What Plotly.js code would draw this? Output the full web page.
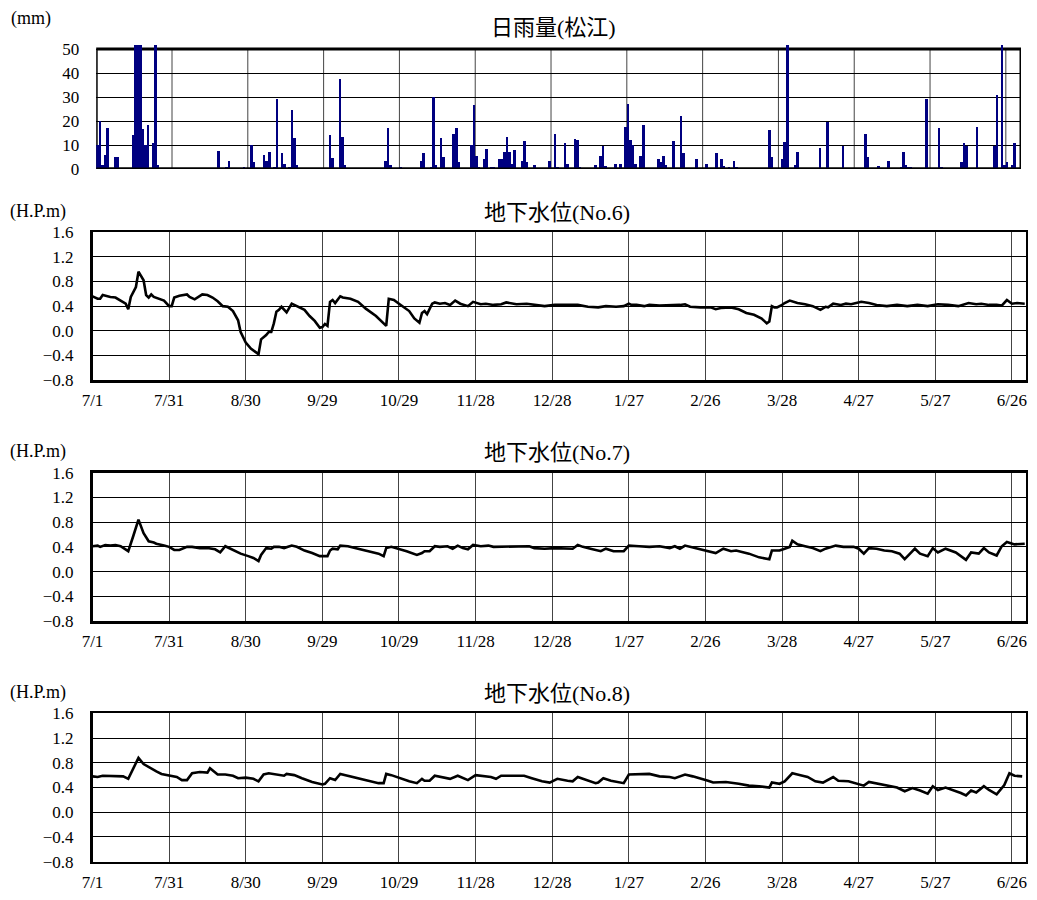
<!DOCTYPE html>
<html>
<head>
<meta charset="utf-8">
<script src="https://cdn.plot.ly/plotly-3.0.1.min.js"></script>
<style>html,body{margin:0;padding:0;background:#fff;}#chart{width:1037px;height:900px;}</style>
</head>
<body>
<div id="chart"></div>
<script>
// ---- tick labels (day index 0 = 7/1) ----
const tickDays = [0, 30, 60, 90, 120, 150, 180, 210, 240, 270, 300, 330, 360];
const tickLabels = ['7/1', '7/31', '8/30', '9/29', '10/29', '11/28', '12/28', '1/27', '2/26', '3/28', '4/27', '5/27', '6/26'];

// ---- daily rainfall, Matsue (mm); days not listed had no rain ----
const rainDays = [0,1,2,3,4,7,8,14,15,16,17,18,19,20,22,23,24,25,
  48,51,52,58,61,62,66,67,68,70,71,73,74,76,77,78,79,
  92,93,96,97,98,114,115,116,120,128,129,132,133,134,136,137,141,142,143,148,149,150,151,153,154,156,157,159,160,161,162,163,164,165,168,169,170,173,179,
  181,182,185,186,187,189,190,191,192,197,199,200,201,205,207,209,210,211,212,213,215,216,222,223,224,225,228,231,232,237,241,245,247,248,250,252,253,261,266,267,
  271,272,273,276,277,278,286,287,289,295,304,305,309,313,314,318,319,320,321,322,328,333,334,342,343,344,348,349,355,356,358,359,360,362,363,364];
const rainMm = [10,20,1.5,6,17,5,5,14,55,55,55,16.5,10,18.5,11,55,1.5,0.5,
  7.5,0.7,3.5,1,10,3,6,3.5,7,1,29,6.5,2,1,24.5,13,1.5,
  14,4.5,37.5,13.5,1.5,3.5,17,1.5,1,3.5,6.5,1,30,1.5,13,5,14.5,17,3,10,26.5,5.5,1,4,8.5,0.7,0.7,4,4,7,13.5,7,2,8,3.5,11.5,3,1.5,3.5,
  14.5,1,11,2,0.5,12.5,12,1,0.5,1.8,5.5,9.7,1.4,2.2,2.2,17.5,27,12,10,2,5.5,18.5,4,3,5.5,1.8,11.5,22,6.8,4,2.2,6.8,4.3,1.4,1,3.5,1,0.5,16.4,5,
  4.3,11.3,55,1.5,7,0.3,8.6,0.3,19.7,9.4,14.4,4.9,1.1,3.2,0.3,0.7,7,1.5,0.7,0.7,29,17,0.7,2.8,10.7,9.4,17.4,0.3,9.4,31,55,1.5,2.8,1.5,11,0.5];

// ---- groundwater level No.6 (H.P.m) ----
const no6Days = [0,2,3,4,7,9,11,13,14,15,17,18,20,21,22,23,24,26,28,30,31,32,34,37,38,40,42,43,45,47,49,51,53,55,57,58,60,62,65,66,68,69,70,71,72,73,74,76,78,81,83,85,87,89,90,91,92,93,94,95,97,98,101,104,107,111,114,115,116,118,120,124,126,128,129,130,131,133,134,136,138,140,142,144,147,149,152,154,157,160,162,166,170,174,177,181,184,187,190,194,198,201,205,208,210,211,213,216,218,222,226,230,232,234,238,242,244,246,250,253,256,259,262,264,265,266,267,268,270,271,273,276,279,282,285,287,288,290,293,295,297,301,304,307,311,315,319,323,327,331,335,339,343,346,348,351,354,356,358,360,362,365];
const no6Level = [0.56,0.52,0.52,0.58,0.55,0.54,0.49,0.44,0.35,0.55,0.71,0.96,0.82,0.58,0.54,0.59,0.55,0.52,0.49,0.40,0.40,0.54,0.57,0.59,0.55,0.51,0.57,0.59,0.58,0.54,0.48,0.40,0.39,0.32,0.17,-0.02,-0.19,-0.29,-0.38,-0.14,-0.07,-0.02,-0.02,0.12,0.31,0.34,0.39,0.30,0.44,0.38,0.34,0.24,0.16,0.05,0.06,0.11,0.08,0.47,0.50,0.45,0.56,0.54,0.52,0.47,0.36,0.24,0.12,0.08,0.52,0.50,0.44,0.32,0.20,0.13,0.29,0.32,0.27,0.44,0.46,0.44,0.45,0.42,0.49,0.44,0.40,0.47,0.43,0.44,0.42,0.43,0.46,0.43,0.44,0.42,0.40,0.42,0.42,0.41,0.42,0.39,0.38,0.40,0.39,0.40,0.44,0.42,0.42,0.40,0.42,0.41,0.41,0.42,0.43,0.39,0.38,0.38,0.35,0.37,0.38,0.35,0.29,0.26,0.20,0.12,0.15,0.40,0.38,0.38,0.42,0.45,0.49,0.45,0.43,0.40,0.34,0.39,0.38,0.44,0.42,0.44,0.43,0.47,0.45,0.42,0.40,0.42,0.40,0.42,0.40,0.43,0.42,0.40,0.45,0.43,0.44,0.42,0.42,0.41,0.50,0.44,0.45,0.44];

// ---- groundwater level No.7 (H.P.m) ----
const no7Days = [0,2,3,5,7,9,11,13,14,16,18,20,22,24,25,28,30,32,34,37,39,42,45,48,50,52,55,58,61,63,65,66,68,70,71,73,75,78,80,83,86,89,92,93,94,96,97,100,104,108,112,114,115,117,121,123,127,129,130,132,134,136,139,141,143,145,147,149,152,155,157,160,164,168,171,173,177,181,185,188,190,192,195,199,201,204,208,210,214,218,222,226,228,230,232,236,240,244,247,250,252,257,261,265,266,269,271,273,274,276,279,282,285,287,291,294,298,300,302,304,307,310,313,316,318,322,324,327,329,331,334,338,342,344,347,349,351,354,356,358,361,365];
const no7Level = [0.41,0.42,0.40,0.43,0.42,0.43,0.41,0.36,0.33,0.58,0.84,0.62,0.49,0.47,0.45,0.42,0.40,0.35,0.35,0.40,0.40,0.38,0.38,0.36,0.31,0.41,0.35,0.29,0.25,0.22,0.17,0.27,0.38,0.37,0.40,0.40,0.38,0.42,0.40,0.34,0.30,0.25,0.25,0.34,0.37,0.36,0.42,0.41,0.37,0.33,0.29,0.25,0.38,0.40,0.36,0.33,0.27,0.30,0.33,0.33,0.41,0.40,0.41,0.37,0.42,0.38,0.36,0.43,0.41,0.42,0.40,0.40,0.41,0.40,0.41,0.38,0.37,0.38,0.38,0.37,0.43,0.40,0.37,0.33,0.37,0.33,0.33,0.42,0.41,0.40,0.41,0.38,0.41,0.37,0.42,0.38,0.34,0.30,0.37,0.33,0.34,0.29,0.23,0.20,0.34,0.34,0.37,0.40,0.50,0.44,0.41,0.38,0.33,0.37,0.42,0.40,0.40,0.37,0.29,0.38,0.37,0.34,0.33,0.29,0.20,0.37,0.29,0.25,0.38,0.31,0.37,0.31,0.19,0.31,0.29,0.38,0.31,0.26,0.41,0.48,0.44,0.45];

// ---- groundwater level No.8 (H.P.m) ----
const no8Days = [0,2,4,8,12,14,16,18,20,22,25,27,30,33,35,37,39,42,45,46,49,52,55,57,60,63,65,67,69,73,75,76,79,82,86,90,91,93,95,97,100,104,108,112,114,115,117,121,124,127,129,130,132,134,136,140,143,145,147,150,153,156,158,160,163,166,169,172,176,179,182,186,188,190,194,197,198,200,203,206,208,210,213,218,222,226,228,230,232,235,238,241,243,248,253,257,261,265,266,269,271,274,276,280,283,286,290,292,296,300,302,304,308,312,315,318,321,324,327,329,331,334,337,340,342,344,346,349,351,354,357,359,361,364];
const no8Level = [0.58,0.57,0.59,0.59,0.58,0.54,0.71,0.88,0.78,0.73,0.66,0.62,0.60,0.57,0.52,0.52,0.63,0.65,0.64,0.71,0.61,0.61,0.59,0.55,0.56,0.54,0.50,0.61,0.63,0.61,0.59,0.62,0.60,0.55,0.49,0.45,0.46,0.55,0.52,0.62,0.59,0.54,0.50,0.47,0.47,0.62,0.60,0.54,0.50,0.47,0.54,0.51,0.51,0.59,0.57,0.54,0.59,0.55,0.52,0.60,0.59,0.57,0.54,0.59,0.59,0.59,0.59,0.55,0.50,0.48,0.54,0.51,0.50,0.57,0.52,0.47,0.48,0.55,0.51,0.48,0.47,0.61,0.61,0.62,0.58,0.57,0.55,0.58,0.61,0.58,0.55,0.51,0.48,0.49,0.46,0.43,0.42,0.40,0.48,0.46,0.50,0.63,0.61,0.57,0.50,0.48,0.57,0.51,0.50,0.45,0.43,0.49,0.46,0.43,0.40,0.34,0.39,0.35,0.30,0.42,0.36,0.40,0.36,0.31,0.27,0.35,0.32,0.42,0.36,0.29,0.44,0.63,0.59,0.58];

// ---- titles ----
const rainTitle = '日雨量(松江)';
const wellTitles = ['地下水位(No.6)', '地下水位(No.7)', '地下水位(No.8)'];
const rainUnit = '(mm)';
const levelUnit = '(H.P.m)';

// ================= figure =================
const W = 1037, H = 900;
const FONT = 'Liberation Serif, "Noto Sans CJK JP", serif';
const px = v => v / W;
const py = v => 1 - v / H;

const rainX = [96.2, 1021];
const lineX = [92.5, 1025.5];
const panels = [ // top, bottom in px
  {top: 45, bottom: 169},
  {top: 232.3, bottom: 380},
  {top: 472.7, bottom: 621},
  {top: 713.3, bottom: 861.7}
];

const traces = [
  {type: 'bar', x: rainDays, y: rainMm, xaxis: 'x', yaxis: 'y',
   width: 1, offset: 0, marker: {color: '#000080', line: {width: 0}},
   hoverinfo: 'x+y', showlegend: false},
  {type: 'scatter', mode: 'lines', x: no6Days, y: no6Level, xaxis: 'x2', yaxis: 'y2',
   line: {color: '#000', width: 2.6}, showlegend: false},
  {type: 'scatter', mode: 'lines', x: no7Days, y: no7Level, xaxis: 'x3', yaxis: 'y3',
   line: {color: '#000', width: 2.6}, showlegend: false},
  {type: 'scatter', mode: 'lines', x: no8Days, y: no8Level, xaxis: 'x4', yaxis: 'y4',
   line: {color: '#000', width: 2.6}, showlegend: false}
];

const tickFont = {family: FONT, size: 17, color: '#000'};

const layout = {
  width: W, height: H,
  margin: {l: 0, r: 0, t: 0, b: 0},
  paper_bgcolor: '#fff', plot_bgcolor: '#fff',
  showlegend: false, bargap: 0,
  xaxis: {domain: [px(rainX[0]), px(rainX[1])], range: [0, 366], tickvals: tickDays,
          showticklabels: false, showgrid: false, zeroline: false, showline: false, ticks: '', fixedrange: true},
  yaxis: {domain: [py(panels[0].bottom), py(panels[0].top)], range: [0, 51.7],
          tickvals: [0, 10, 20, 30, 40, 50], showgrid: true, gridcolor: '#000', gridwidth: 1,
          zeroline: false, showline: false, ticks: '', tickfont: tickFont, ticklabelstandoff: 16, fixedrange: true},
  shapes: [],
  annotations: []
};

for (let i = 0; i < 3; i++) {
  const n = i + 2;
  const p = panels[i + 1];
  layout['xaxis' + n] = {
    domain: [px(lineX[0]), px(lineX[1])], range: [0, 365.3], anchor: 'y' + n,
    tickvals: tickDays, ticktext: tickLabels, tickfont: tickFont, ticks: '', ticklabelstandoff: 3,
    showgrid: true, gridcolor: '#444', gridwidth: 1, zeroline: false,
    showline: true, mirror: true, linecolor: '#000', linewidth: 2.6, fixedrange: true
  };
  layout['yaxis' + n] = {
    domain: [py(p.bottom), py(p.top)], range: [-0.8, 1.6], anchor: 'x' + n,
    tickvals: [-0.8, -0.4, 0, 0.4, 0.8, 1.2, 1.6], tickformat: '.1f', tickfont: tickFont,
    ticks: '', ticklabelstandoff: 13,
    showgrid: true, gridcolor: '#000', gridwidth: 1, zeroline: false,
    showline: true, mirror: true, linecolor: '#000', linewidth: 2.6, fixedrange: true
  };
  layout.annotations.push({
    text: wellTitles[i], xref: 'paper', yref: 'paper', x: px(557), y: py(p.top - 20),
    xanchor: 'center', yanchor: 'middle', showarrow: false,
    font: {family: FONT, size: 22, color: '#000'}
  });
  layout.annotations.push({
    text: levelUnit, xref: 'paper', yref: 'paper', x: px(8), y: py(p.top - 21),
    xanchor: 'left', yanchor: 'middle', showarrow: false,
    font: {family: FONT, size: 18, color: '#000'}
  });
}

// rain panel frame and vertical grid (frame at 50 mm; tall bars run past it)
tickDays.slice(1).forEach(d => {
  layout.shapes.push({type: 'line', xref: 'x', yref: 'y', x0: d, x1: d, y0: 0, y1: 50,
    line: {color: '#444', width: 1}, layer: 'below'});
});
layout.shapes.push({type: 'rect', xref: 'x', yref: 'y', x0: 0, x1: 366, y0: 0, y1: 50,
  line: {color: '#000', width: 3}, layer: 'below'});
layout.shapes.push({type: 'line', xref: 'x', yref: 'y', x0: 0, x1: 366, y0: 0, y1: 0,
  line: {color: '#000', width: 3}, layer: 'above'});

layout.annotations.push({
  text: rainTitle, xref: 'paper', yref: 'paper', x: px(553), y: py(27),
  xanchor: 'center', yanchor: 'middle', showarrow: false,
  font: {family: FONT, size: 22, color: '#000'}
});
layout.annotations.push({
  text: rainUnit, xref: 'paper', yref: 'paper', x: px(9), y: py(19),
  xanchor: 'left', yanchor: 'middle', showarrow: false,
  font: {family: FONT, size: 18, color: '#000'}
});

Plotly.newPlot('chart', traces, layout, {displayModeBar: false, staticPlot: true});
</script>
</body>
</html>
